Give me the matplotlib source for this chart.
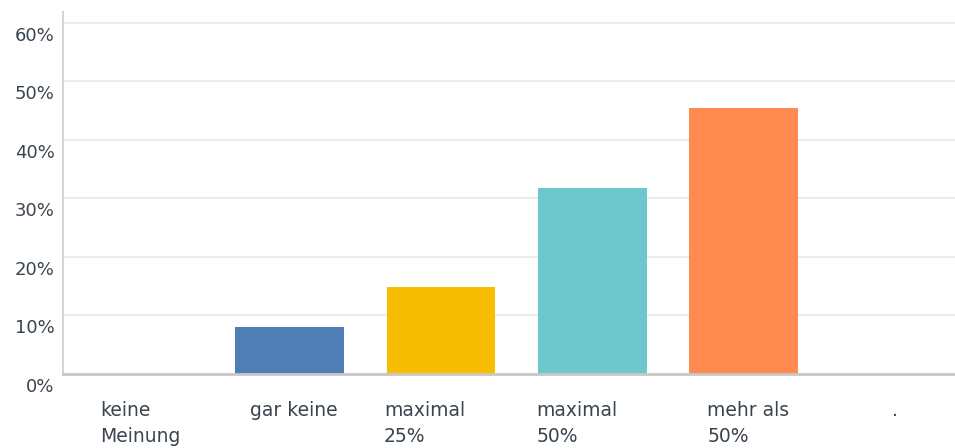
import matplotlib
matplotlib.use("Agg")
import matplotlib.pyplot as plt
from matplotlib.transforms import ScaledTranslation, offset_copy
from matplotlib.ticker import FuncFormatter

# Survey answers and their shares (percent of respondents)
categories = ["keine\nMeinung", "gar keine", "maximal\n25%", "maximal\n50%", "mehr als\n50%", "."]
shares = [0.0, 7.95, 14.77, 31.82, 45.45, 0.0]
bar_colors = ["#4f7db5", "#4f7db5", "#f7bd00", "#6cc8cd", "#ff8b50", "#9b9b9b"]
y_ticks = [0, 10, 20, 30, 40, 50, 60]

# horizontal nudge (pixels) of each category label's left edge from the bar centre
label_shift_px = [-38, -40, -57, -56, -36, -3]

plt.rcParams["font.family"] = ["DejaVu Sans"]
text_color = "#3a444f"

fig = plt.figure(figsize=(9.55, 4.48), dpi=100)
ax = fig.add_axes([63 / 955, 74.5 / 448, 892 / 955, 361.5 / 448])

x = list(range(len(categories)))
ax.bar(x, shares, width=0.72, color=bar_colors, zorder=2)

ax.set_xlim(-0.5, 5.4)
ax.set_ylim(0, 61.9)
ax.set_yticks(y_ticks)
ax.yaxis.set_major_formatter(FuncFormatter(lambda v, _: f"{v:.0f}%"))
ax.grid(axis="y", color="#ebebeb", linewidth=1.5, zorder=0)
ax.tick_params(axis="y", length=0, pad=6, labelsize=13, labelcolor=text_color)
ax.tick_params(axis="x", length=0, labelbottom=False)

for side in ("top", "right"):
    ax.spines[side].set_visible(False)
ax.spines["left"].set_color("#d4d4d4")
ax.spines["left"].set_linewidth(1.5)
ax.spines["bottom"].set_color("#c8c8c8")
ax.spines["bottom"].set_linewidth(2)
ax.spines["bottom"].set_zorder(3)

# percent labels sit slightly below their gridlines
shift_down = ScaledTranslation(0, -0.11, fig.dpi_scale_trans)
for lbl in ax.get_yticklabels():
    lbl.set_transform(lbl.get_transform() + shift_down)

# category labels, left aligned under each bar
base = ax.get_xaxis_transform()
for xi, name, dx in zip(x, categories, label_shift_px):
    tr = offset_copy(base, fig=fig, x=dx, y=-27, units="dots")
    ax.text(xi, 0, name, transform=tr, ha="left", va="top",
            fontsize=13.5, color=text_color, linespacing=1.5)

fig.savefig("out.png", dpi=100)
